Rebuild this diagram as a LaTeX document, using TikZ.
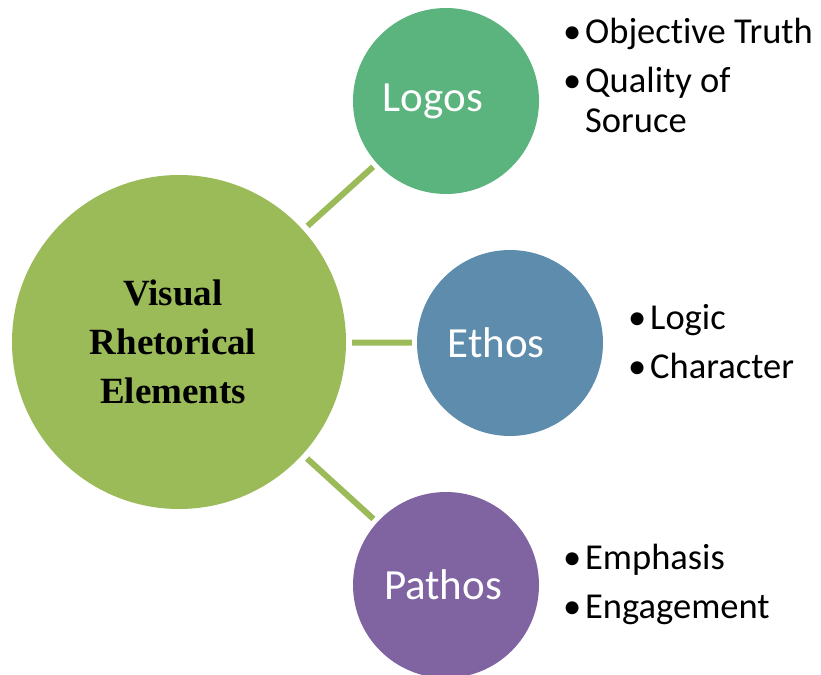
\documentclass[tikz,border=0pt]{standalone}
\usepackage{fontspec}
\setmainfont{Carlito}[Ligatures=NoCommon]
\newfontfamily\titlefont{Liberation Serif}
\usetikzlibrary{positioning}

\definecolor{maingreen}{HTML}{9BBB59}
\definecolor{logosgreen}{HTML}{5BB37D}
\definecolor{ethosblue}{HTML}{5D8CAD}
\definecolor{pathospurple}{HTML}{8064A2}

\tikzstyle{big} = [circle, fill=maingreen, minimum size=334pt, inner sep=0pt, text width=230pt, align=center, font=\titlefont\bfseries\fontsize{37}{49}\selectfont]
\tikzstyle{c} = [circle, minimum size=186pt, inner sep=0pt, text=white, font=\fontsize{43}{50}\selectfont]
\tikzstyle{b} = [anchor=north west, inner sep=0pt, align=left, font=\fontsize{36.5}{40}\selectfont]
\tikzstyle{link} = [-, draw=maingreen, line width=6pt, shorten <=6pt, shorten >=5pt]

\newcommand{\itm}{\makebox[22pt][l]{\textbullet}}
\newcommand{\cont}{\hspace*{22pt}}
% moves a label left of the circle centre
\newcommand{\lft}[1]{\hspace*{-#1}}

\begin{document}
\begin{tikzpicture}[x=1pt,y=-1pt]
\useasboundingbox (0,0) rectangle (821,674);

\node[big] (Visual) at (179,342) {\lft{12pt}Visual\\\lft{12pt}Rhetorical\\\lft{12pt}Elements};

\node[c, fill=logosgreen] (Logos) at (446,101) {\lft{26pt}Logos};
\node[c, fill=ethosblue] (Ethos) at (510,343) {\lft{28pt}Ethos};
\node[c, fill=pathospurple] (Pathos) at (446,585) {\lft{6pt}Pathos};

\node[b] (LogosList) at (563,18) {\itm Objective Truth\\[9pt]\itm Quality of\\\cont Soruce};
\node[b] (EthosList) at (628,304) {\itm Logic\\[9pt]\itm Character};
\node[b] (PathosList) at (563,544) {\itm Emphasis\\[9pt]\itm Engagement};

\path
  (Visual) edge[link] (Logos)
  (Visual) edge[link] (Ethos)
  (Visual) edge[link] (Pathos)
  ;

\end{tikzpicture}
\end{document}
